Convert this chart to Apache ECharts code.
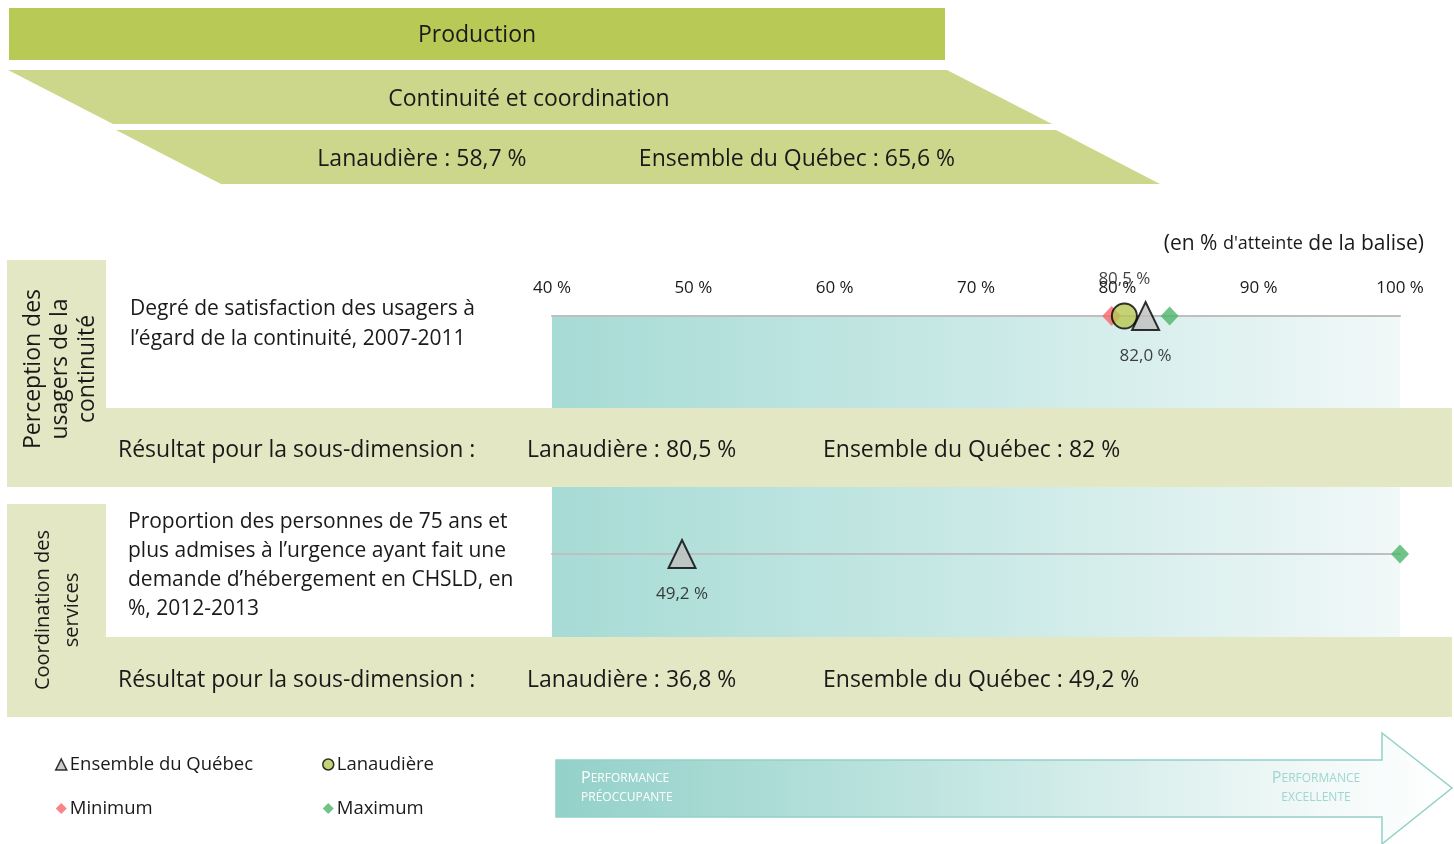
<!DOCTYPE html>
<html>
<head>
<meta charset="utf-8">
<script src="https://cdn.jsdelivr.net/npm/echarts@6/dist/echarts.min.js"></script>
<style>
  html, body { margin: 0; padding: 0; background: #fff; }
  #main { width: 1454px; height: 844px; }
</style>
</head>
<body>
<div id="main"></div>
<script>
// données
var indicators = [
    'Degré de satisfaction des usagers à\nl’égard de la continuité, 2007-2011',
    'Proportion des personnes de 75 ans et\nplus admises à l’urgence ayant fait une\ndemande d’hébergement en CHSLD, en\n%, 2012-2013'
];
var subDimensions = ['Perception des\nusagers de la\ncontinuité', 'Coordination des\nservices'];
var quebec = [82.0, 49.2];
var lanaudiere = [80.5, 36.8];
var minimum = [79.6, null];
var maximum = [83.7, 100];
var resultLanaudiere = [80.5, 36.8];
var resultQuebec = [82, 49.2];
var dimLanaudiere = 58.7;
var dimQuebec = 65.6;
var axisTicks = [40, 50, 60, 70, 80, 90, 100];

var FONT = '"Open Sans", sans-serif';
var TXT = '#1a1a1a';

function pct(v, fixed) {
    var s = fixed ? v.toFixed(1) : String(v);
    return s.replace('.', ',') + ' %';
}

var axisMin = axisTicks[0], axisMax = axisTicks[axisTicks.length - 1];

// mise en page
var gx = 552, gw = 848;
var lineY = [316, 554];

function bandGradient() {
    return new echarts.graphic.LinearGradient(0, 0, 1, 0, [
        { offset: 0, color: '#a7dbd5' },
        { offset: 0.5, color: '#c9e9e6' },
        { offset: 1, color: '#f1f8f8' }
    ]);
}

function label(x, y, text, size, extra) {
    var st = { text: text, font: size + 'px ' + FONT, fill: TXT, textAlign: 'left', textVerticalAlign: 'middle' };
    for (var k in extra) st[k] = extra[k];
    return { type: 'text', x: x, y: y, style: st, z: 2 };
}

var graphics = [
    // bandeaux du haut
    { type: 'rect', shape: { x: 9, y: 8, width: 936, height: 52 }, style: { fill: '#b8c955' }, z: 1 },
    label(477, 35, 'Production', 23, { textAlign: 'center' }),
    { type: 'polygon', shape: { points: [[8, 70], [947, 70], [1052, 124], [113, 124]] }, style: { fill: '#cdd78b' }, z: 1 },
    label(529, 99, 'Continuité et coordination', 23, { textAlign: 'center' }),
    { type: 'polygon', shape: { points: [[116, 130], [1056, 130], [1160, 184], [221, 184]] }, style: { fill: '#cdd78b' }, z: 1 },
    label(422, 159, 'Lanaudière : ' + pct(dimLanaudiere, true), 23, { textAlign: 'center' }),
    label(797, 159, 'Ensemble du Québec : ' + pct(dimQuebec, true), 23, { textAlign: 'center' }),
    { type: 'text', x: 1424, y: 244, style: { text: "{a|(en % }{b|d'atteinte}{a| de la balise)}", fill: TXT, textAlign: 'right', textVerticalAlign: 'middle',
        rich: { a: { fontSize: 21, fontFamily: FONT, fill: TXT }, b: { fontSize: 18, fontFamily: FONT, fill: TXT } } }, z: 2 },

    // bandes dégradées
    { type: 'rect', shape: { x: gx, y: 316, width: gw, height: 92 }, style: { fill: bandGradient() }, z: 0 },
    { type: 'rect', shape: { x: gx, y: 487, width: gw, height: 150 }, style: { fill: bandGradient() }, z: 0 },

    // panneaux sous-dimensions
    { type: 'rect', shape: { x: 7, y: 260, width: 99, height: 227 }, style: { fill: '#e3e7c3' }, z: 1 },
    { type: 'rect', shape: { x: 106, y: 408, width: 1346, height: 79 }, style: { fill: '#e3e7c3' }, z: 1 },
    { type: 'rect', shape: { x: 7, y: 504, width: 99, height: 213 }, style: { fill: '#e3e7c3' }, z: 1 },
    { type: 'rect', shape: { x: 106, y: 637, width: 1346, height: 80 }, style: { fill: '#e3e7c3' }, z: 1 },

    { type: 'text', x: 60, y: 369, rotation: Math.PI / 2, style: { text: subDimensions[0], font: '23px ' + FONT, lineHeight: 27, fill: TXT, textAlign: 'center', textVerticalAlign: 'middle' }, z: 2 },
    { type: 'text', x: 58, y: 610, rotation: Math.PI / 2, style: { text: subDimensions[1], font: '20px ' + FONT, lineHeight: 29, fill: TXT, textAlign: 'center', textVerticalAlign: 'middle' }, z: 2 },

    label(130, 324, indicators[0], 21, { lineHeight: 30 }),
    label(128, 566, indicators[1], 21, { lineHeight: 29 })
];

[450, 680].forEach(function (y, i) {
    graphics.push(
        label(118, y, 'Résultat pour la sous-dimension :', 23),
        label(527, y, 'Lanaudière : ' + pct(resultLanaudiere[i]), 23),
        label(823, y, 'Ensemble du Québec : ' + pct(resultQuebec[i]), 23)
    );
});

// flèche de performance
function capsRich(color) {
    return {
        a: { fontSize: 16, fontFamily: FONT, fill: color, lineHeight: 19 },
        b: { fontSize: 12, fontFamily: FONT, fill: color, lineHeight: 19 }
    };
}
graphics.push(
    { type: 'polygon', shape: { points: [[556, 760], [1382, 760], [1382, 733], [1452, 788], [1382, 844], [1382, 817], [556, 817]] },
      style: { fill: new echarts.graphic.LinearGradient(0, 0, 1, 0, [
          { offset: 0, color: '#93d1c9' }, { offset: 0.45, color: '#c3e6e2' }, { offset: 0.85, color: '#f2f9f8' }, { offset: 1, color: '#ffffff' }
      ]), stroke: '#93d1c9', lineWidth: 1.5 }, z: 1 },
    { type: 'text', x: 581, y: 788, style: { text: '{a|P}{b|ERFORMANCE}\n{b|PRÉOCCUPANTE}', fill: '#ffffff', textVerticalAlign: 'middle', rich: capsRich('#ffffff') }, z: 2 },
    { type: 'text', x: 1316, y: 788, style: { text: '{a|P}{b|ERFORMANCE}\n{b|EXCELLENTE}', fill: '#9fd6cf', textAlign: 'center', textVerticalAlign: 'middle', rich: capsRich('#9fd6cf') }, z: 2 }
);

function onScale(v) { return v != null && v >= axisMin && v <= axisMax ? v : null; }

var grids = [], xAxes = [], yAxes = [], series = [];
lineY.forEach(function (ly, i) {
    // la ligne d'axe est le bord haut de la grille
    grids.push({ left: gx, width: gw, top: ly, height: 60 });
    xAxes.push({
        gridIndex: i, type: 'value', position: 'top', min: axisMin, max: axisMax, interval: 10, z: 3,
        axisLine: { show: true, onZero: false, lineStyle: { color: '#bfbfbf', width: 2 } },
        axisTick: { show: false }, splitLine: { show: false },
        axisLabel: { show: i === 0, margin: 19, formatter: '{value} %', color: TXT, fontSize: 17, fontFamily: FONT }
    });
    yAxes.push({ gridIndex: i, type: 'value', min: -1, max: 0, show: false });

    function pt(arr) { var v = onScale(arr[i]); return v == null ? [] : [[v, 0]]; }

    series.push(
        { name: 'Minimum', type: 'scatter', xAxisIndex: i, yAxisIndex: i, z: 5, clip: false, symbol: 'diamond', symbolSize: [19, 20],
          itemStyle: { color: '#f7666a' }, data: pt(minimum) },
        { name: 'Maximum', type: 'scatter', xAxisIndex: i, yAxisIndex: i, z: 5, clip: false, symbol: 'diamond', symbolSize: [18, 19],
          itemStyle: { color: '#4db56a' }, data: pt(maximum) },
        { name: 'Lanaudière', type: 'scatter', xAxisIndex: i, yAxisIndex: i, z: 6, clip: false, symbol: 'circle', symbolSize: 25,
          itemStyle: { color: '#b6c752', borderColor: '#000', borderWidth: 2 },
          label: { show: true, position: 'top', distance: 15, color: '#111', fontSize: 17, fontFamily: FONT, formatter: function (p) { return pct(p.value[0], true); } },
          data: pt(lanaudiere) },
        { name: 'Ensemble du Québec', type: 'scatter', xAxisIndex: i, yAxisIndex: i, z: 7, clip: false, symbol: 'triangle', symbolSize: [27, 28],
          itemStyle: { color: '#bfbfbf', borderColor: '#000', borderWidth: 2 },
          label: { show: true, position: 'bottom', distance: 17, color: '#111', fontSize: 17, fontFamily: FONT, formatter: function (p) { return pct(p.value[0], true); } },
          data: pt(quebec) }
    );
});

var legendBase = {
    orient: 'vertical', top: 750, itemWidth: 11, itemHeight: 11, itemGap: 25, selectedMode: false,
    textStyle: { color: TXT, fontSize: 18.5, fontFamily: FONT, padding: [0, 0, 0, -2] },
    itemStyle: { borderWidth: 1.5 }
};

var myChart = echarts.init(document.getElementById('main'));
myChart.setOption({
    animation: false,
    textStyle: { fontFamily: FONT },
    grid: grids,
    xAxis: xAxes,
    yAxis: yAxes,
    legend: [
        Object.assign({}, legendBase, { left: 50, data: ['Ensemble du Québec', 'Minimum'] }),
        Object.assign({}, legendBase, { left: 317, data: ['Lanaudière', 'Maximum'] })
    ],
    graphic: { elements: graphics },
    series: series
});
</script>
</body>
</html>
